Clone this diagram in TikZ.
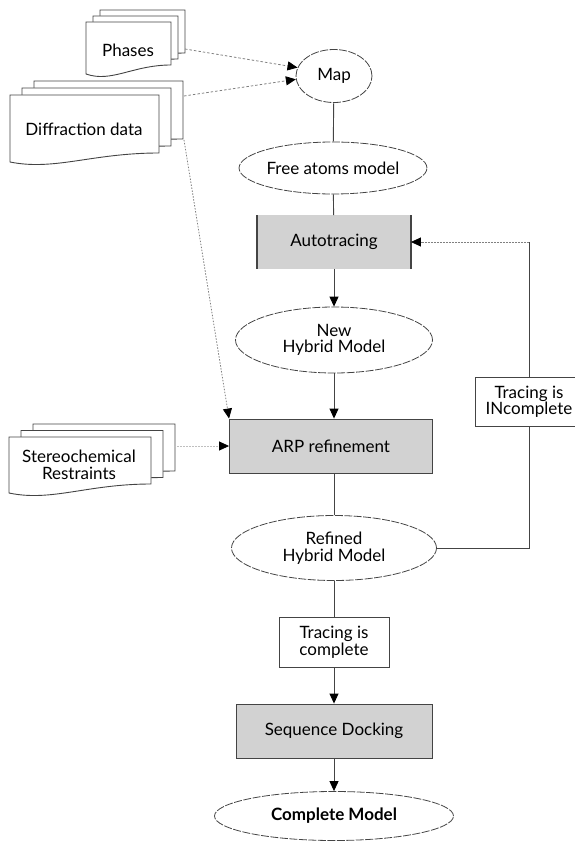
\documentclass[tikz,border=0pt]{standalone}
\usepackage{fontspec}
\setmainfont{Lato}
\usetikzlibrary{arrows.meta,shapes.geometric}

\definecolor{boxgray}{HTML}{D2D2D2}
\definecolor{linegray}{HTML}{444444}

% one sheet of a document stack: left, top, width, height
\newcommand{\docsheet}[4]{%
  \filldraw[fill=white,draw=linegray,line width=0.9pt]
    (#1,#2) -- (#1+#3,#2) -- (#1+#3,#2+#4-9)
    .. controls (#1+0.55*#3,#2+#4-9) and (#1+0.3*#3,#2+#4+9) .. (#1,#2+#4) -- cycle;}

\begin{document}
\begin{tikzpicture}[x=1pt,y=-1pt,>={Triangle[length=10pt,width=9pt,color=black]},
  every node/.style={font=\fontsize{17}{16.5}\selectfont,inner sep=0pt},
  datanode/.style={ellipse,draw=linegray,line width=0.8pt,dash pattern=on 8pt off 1.5pt},
  procbox/.style={rectangle,fill=boxgray,draw=linegray,line width=0.9pt},
  testbox/.style={rectangle,fill=white,draw=linegray,line width=0.9pt,align=center},
  flow/.style={draw=linegray,line width=0.9pt},
  input/.style={draw=gray,line width=0.8pt,dash pattern=on 2.5pt off 2pt}]
  \useasboundingbox (0,0) rectangle (574,842);

  % document stacks
  \foreach \d in {2,1,0} \docsheet{86+7*\d}{22-6*\d}{85}{52};
  \foreach \d in {2,1,0} \docsheet{10+12*\d}{95-7*\d}{149}{67};
  \foreach \d in {2,1,0} \docsheet{9+12*\d}{437-6.5*\d}{142}{56};
  \node (phases) at (128,50) {Phases};
  \node (diffr) at (84,129) {Diffraction data};
  \node[align=center] (stereo) at (79,465) {Stereochemical\\Restraints};
  \coordinate (phasesout) at (185,49);
  \coordinate (diffrout) at (184,96);
  \coordinate (diffrdown) at (184,140);
  \coordinate (stereoout) at (174,446);

  % main flow
  \node[datanode,minimum width=76,minimum height=53] (map) at (334,76) {Map};
  \node[datanode,minimum width=174,minimum height=52] (freeat) at (333,168) {Free atoms model};
  \node[procbox,draw=none,minimum width=153,minimum height=53] (auto) at (334,242) {Autotracing};
  \draw[linegray,line width=1.6pt] (auto.north west) -- (auto.south west)
    (auto.north east) -- (auto.south east);
  \node[datanode,minimum width=197,minimum height=66,align=center] (newhyb) at (334,340) {New\\Hybrid Model};
  \node[procbox,minimum width=203,minimum height=54] (arp) at (331,446) {ARP refinement};
  \node[datanode,minimum width=205,minimum height=65,align=center] (refined) at (334,548) {Refined\\Hybrid Model};
  \node[testbox,minimum width=110,minimum height=50] (tcomp) at (334,642) {Tracing is\\complete};
  \node[procbox,minimum width=196,minimum height=54] (seqdock) at (334,731) {Sequence Docking};
  \node[datanode,minimum width=239,minimum height=49,font=\fontsize{17}{16.5}\selectfont\bfseries] (complete) at (334,816) {Complete Model};
  \node[testbox,minimum width=108,minimum height=49] (incomp) at (529,402) {Tracing is\\INcomplete};

  % inputs
  \draw[input,->] (phasesout) -- (map.167);
  \draw[input,->] (diffrout) -- (map.185);
  \draw[input,dash pattern=on 1.5pt off 1.5pt,->] (diffrdown) -- (arp.north west);
  \draw[input,draw=lightgray,dash pattern=on 1.5pt off 1.5pt,->] (stereoout) -- (arp.west);

  % connectors
  \draw[flow] (map) -- (freeat);
  \draw[flow] (freeat) -- (auto);
  \draw[flow,->] (auto) -- (newhyb);
  \draw[flow,->] (newhyb) -- (newhyb |- arp.north);
  \draw[flow] (arp.south -| refined.north) -- (refined.north);
  \draw[flow] (refined) -- (tcomp);
  \draw[flow,->] (tcomp) -- (seqdock);
  \draw[flow,->] (seqdock) -- (complete);

  % feedback loop
  \draw[flow] (refined.east) -| (incomp.south);
  \draw[flow] (incomp.north) -- (incomp.north |- auto.east) coordinate (turn);
  \draw[input,dash pattern=on 2pt off 1pt,->] (turn) -- (auto.east);
\end{tikzpicture}
\end{document}
